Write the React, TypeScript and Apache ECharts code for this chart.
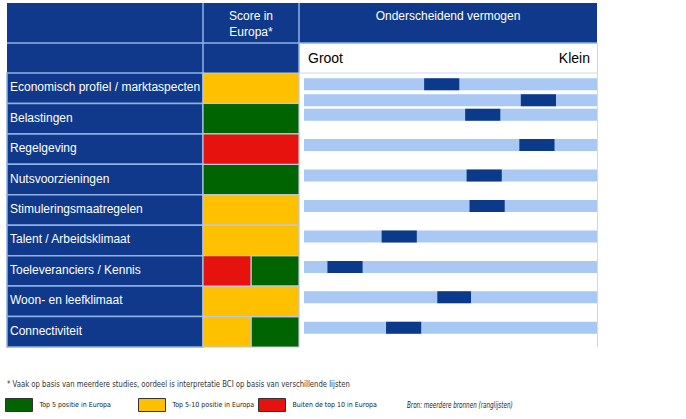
import React, { useEffect, useRef } from 'react';
import * as echarts from 'echarts';

// ---------- data ----------
const rows = [
  'Economisch profiel / marktaspecten',
  'Belastingen',
  'Regelgeving',
  'Nutsvoorzieningen',
  'Stimuleringsmaatregelen',
  'Talent / Arbeidsklimaat',
  'Toeleveranciers / Kennis',
  'Woon- en leefklimaat',
  'Connectiviteit',
];

const levels = ['Top 5 positie in Europa', 'Top 5-10 positie in Europa', 'Buiten de top 10 in Europa'];
// score in Europa per row (index into levels), left half / right half of the cell
const scoreLeft = [1, 0, 2, 0, 1, 1, 2, 1, 1];
const scoreRight = [1, 0, 2, 0, 1, 1, 0, 1, 0];

// Onderscheidend vermogen (0 = Groot ... 100 = Klein): row of each bar and its marker span
const barRows = [0, 0, 1, 2, 3, 4, 5, 6, 7, 8];
const markerStart = [41, 74, 55, 73.5, 55.5, 56.5, 26.5, 8, 45.5, 28];
const markerEnd = [53, 86, 67, 85.5, 67.5, 68.5, 38.5, 20, 57, 40];

// ---------- styles ----------
const NAVY = '#10398b';
const MARK = '#0c3a8a';
const LIGHT = '#a9c8f3';
const LINE = '#8fb2e6';
const LEVEL_COLORS = ['#006400', '#ffc000', '#e6120e'];
const FONT = '"Liberation Sans", Arial, sans-serif';
const NARROW = '"DejaVu Sans Condensed", "Liberation Sans", sans-serif';

export default function App() {
  const ref = useRef<HTMLDivElement>(null);

  useEffect(() => {
    if (!ref.current) return;
    const chart = echarts.init(ref.current, undefined, { renderer: 'svg' });

    const subIndex = barRows.map((r, k) => barRows.slice(0, k).filter((x) => x === r).length);

    const barItem = (params: any, api: any, fill: string) => {
      const row = api.value(2);
      const sub = api.value(3);
      const a = api.coord([api.value(0), row]);
      const b = api.coord([api.value(1), row]);
      const cy = a[1] - 4 + sub * 16;
      return {
        type: 'rect',
        shape: { x: a[0], y: cy - 6, width: b[0] - a[0], height: 12 },
        style: { fill },
      };
    };

    const scoreSeries = levels.map((name, lv) => {
      const data: number[][] = [];
      rows.forEach((_, i) => {
        if (scoreLeft[i] === lv && scoreRight[i] === lv) data.push([0, 2, i]);
        else {
          if (scoreLeft[i] === lv) data.push([0, 1, i]);
          if (scoreRight[i] === lv) data.push([1, 2, i]);
        }
      });
      return {
        type: 'custom',
        name,
        xAxisIndex: 1,
        yAxisIndex: 1,
        itemStyle: { color: LEVEL_COLORS[lv] },
        encode: { x: [0, 1], y: 2 },
        data,
        renderItem: (params: any, api: any) => {
          const row = api.value(2);
          const a = api.coord([api.value(0), row]);
          const b = api.coord([api.value(1), row]);
          const h = api.size([0, 1])[1];
          return {
            type: 'rect',
            shape: { x: a[0], y: a[1] - h / 2, width: b[0] - a[0], height: h },
            style: { fill: LEVEL_COLORS[lv], stroke: '#b9c9e0', lineWidth: 1.2 },
          };
        },
      };
    });

    const legendLefts = [5, 138, 258];
    const legends = levels.map((name, lv) => ({
      left: legendLefts[lv],
      top: 398,
      orient: 'horizontal',
      selectedMode: false,
      itemWidth: 27,
      itemHeight: 13,
      itemGap: 6,
      padding: 0,
      data: [{ name, icon: 'rect' }],
      itemStyle: { borderColor: '#333', borderWidth: 1 },
      textStyle: { fontSize: 7, color: '#222', fontFamily: NARROW, padding: [0, 0, 0, 2] },
    }));

    const txt = (text: string, x: number, y: number, opts: any = {}) => ({
      type: 'text',
      z: 100,
      x,
      y,
      scaleX: opts.scaleX || 1,
      style: {
        text,
        x: 0,
        y: 0,
        fill: opts.fill || '#fff',
        fontSize: opts.fontSize || 12,
        fontFamily: opts.fontFamily || FONT,
        fontStyle: opts.fontStyle || 'normal',
        textAlign: opts.align || 'left',
        align: opts.align || 'left',
        textVerticalAlign: 'middle',
        verticalAlign: 'middle',
      },
    });

    const option: any = {
      animation: false,
      backgroundColor: '#fff',
      grid: [
        { left: 7, width: 196, top: 73, height: 274 },
        { left: 203, width: 96, top: 73, height: 274 },
        { left: 304, width: 293, top: 73, height: 274 },
      ],
      xAxis: [
        { gridIndex: 0, type: 'value', min: 0, max: 1, show: false },
        { gridIndex: 1, type: 'value', min: 0, max: 2, show: false },
        { gridIndex: 2, type: 'value', min: 0, max: 100, show: false },
      ],
      yAxis: [0, 1, 2].map((g) => ({
        gridIndex: g,
        type: 'category',
        data: rows,
        inverse: true,
        show: false,
      })),
      legend: legends,
      graphic: [
        { type: 'rect', shape: { x: 7, y: 3, width: 590, height: 40 }, style: { fill: NAVY } },
        { type: 'rect', shape: { x: 7, y: 43, width: 292, height: 30 }, style: { fill: NAVY } },
        { type: 'rect', shape: { x: 299, y: 43, width: 298, height: 30 }, style: { fill: '#fff' } },
        { type: 'line', shape: { x1: 203, y1: 3, x2: 203, y2: 73 }, style: { stroke: LINE, lineWidth: 1.5 } },
        { type: 'line', shape: { x1: 299, y1: 3, x2: 299, y2: 73 }, style: { stroke: LINE, lineWidth: 1.5 } },
        { type: 'line', shape: { x1: 7, y1: 43, x2: 597, y2: 43 }, style: { stroke: LINE, lineWidth: 1.5 } },
        { type: 'line', shape: { x1: 299, y1: 73, x2: 597, y2: 73 }, style: { stroke: '#c9daf2', lineWidth: 1 } },
        { type: 'line', shape: { x1: 597.5, y1: 43, x2: 597.5, y2: 347 }, style: { stroke: '#c9daf2', lineWidth: 1 } },
        txt('Score in', 251, 16, { align: 'center' }),
        txt('Europa*', 251, 32, { align: 'center' }),
        txt('Onderscheidend vermogen', 448, 16, { align: 'center' }),
        txt('Groot', 308, 58, { fill: '#000', fontSize: 14 }),
        txt('Klein', 590, 58, { fill: '#000', fontSize: 14, align: 'right' }),
        txt('* Vaak op basis van meerdere studies, oordeel is interpretatie BCI op basis van verschillende lijsten', 7, 384, {
          fill: '#333',
          fontSize: 8.5,
          fontFamily: NARROW,
          scaleX: 0.9,
        }),
        txt('Bron: meerdere bronnen (ranglijsten)', 407, 405, {
          fill: '#222',
          fontSize: 9.5,
          fontFamily: NARROW,
          fontStyle: 'italic',
          scaleX: 0.66,
        }),
      ],
      series: [
        {
          type: 'custom',
          xAxisIndex: 0,
          yAxisIndex: 0,
          encode: { x: 0, y: 1 },
          data: rows.map((_, i) => [0, i]),
          renderItem: (params: any, api: any) => {
            const i = api.value(1);
            const c = api.coord([0, i]);
            const h = api.size([0, 1])[1];
            const cs = params.coordSys;
            return {
              type: 'group',
              children: [
                {
                  type: 'rect',
                  shape: { x: cs.x, y: c[1] - h / 2, width: cs.width, height: h },
                  style: { fill: NAVY, stroke: LINE, lineWidth: 1.5 },
                },
                {
                  type: 'text',
                  style: {
                    text: rows[i],
                    x: cs.x + 3,
                    y: c[1] - 1,
                    fill: '#fff',
                    fontSize: 12,
                    fontFamily: FONT,
                    align: 'left',
                    verticalAlign: 'middle',
                  },
                },
              ],
            };
          },
        },
        ...scoreSeries,
        {
          type: 'custom',
          xAxisIndex: 2,
          yAxisIndex: 2,
          encode: { x: [0, 1], y: 2 },
          data: barRows.map((r, k) => [0, 100, r, subIndex[k]]),
          renderItem: (params: any, api: any) => barItem(params, api, LIGHT),
        },
        {
          type: 'custom',
          xAxisIndex: 2,
          yAxisIndex: 2,
          encode: { x: [0, 1], y: 2 },
          data: barRows.map((r, k) => [markerStart[k], markerEnd[k], r, subIndex[k]]),
          renderItem: (params: any, api: any) => barItem(params, api, MARK),
        },
      ],
    };

    chart.setOption(option);
    return () => chart.dispose();
  }, []);

  return (
    <div
      ref={ref}
      style={{ position: 'fixed', left: 0, top: 0, width: 686, height: 419 }}
    />
  );
}
